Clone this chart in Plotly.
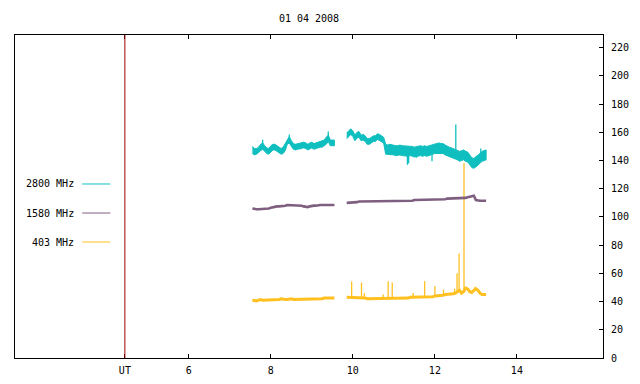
import plotly.graph_objects as go

TITLE = "01 04 2008"
SERIES_NAMES = ["2800 MHz", "1580 MHz", "403 MHz"]
X_TICK_VALS = [4.44, 6, 8, 10, 12, 14]
X_TICK_TEXT = ["UT", "6", "8", "10", "12", "14"]

# time (UT hours) of first and second observing segments
t1 = [7.55, 7.60, 7.65, 7.70, 7.75, 7.80, 7.85, 7.90, 7.95,
      8.00, 8.05, 8.10, 8.15, 8.20, 8.25, 8.30, 8.35,
      8.40, 8.45, 8.50, 8.55, 8.60, 8.65, 8.70, 8.75,
      8.80, 8.85, 8.90, 8.95, 9.00, 9.05, 9.10, 9.15,
      9.20, 9.25, 9.30, 9.35, 9.40, 9.45, 9.50, 9.55]
t2 = [9.85, 9.90, 9.95, 10.00, 10.05, 10.10, 10.15, 10.20,
      10.25, 10.30, 10.35, 10.40, 10.45, 10.50, 10.55, 10.60,
      10.65, 10.70, 10.75, 10.80, 10.85, 10.90, 10.95, 11.00,
      11.05, 11.10, 11.15, 11.20, 11.25, 11.30, 11.35, 11.40,
      11.45, 11.50, 11.55, 11.60, 11.65, 11.70, 11.75, 11.80,
      11.85, 11.90, 11.95, 12.00, 12.05, 12.10, 12.15, 12.20,
      12.25, 12.30, 12.35, 12.40, 12.45, 12.50, 12.55, 12.60,
      12.65, 12.70, 12.75, 12.80, 12.85, 12.90, 12.95, 13.00,
      13.05, 13.10, 13.15, 13.20, 13.25]

# 2800 MHz: noisy band, lower / upper envelope
f2800_hi_1 = [150, 148.5, 148.5, 149.5, 151.5, 152.5, 150.5, 149, 148.5,
              150.5, 151.5, 151.5, 150.5, 149.5, 148.5, 149.5, 152,
              155.5, 157, 154, 152, 151.5, 152, 152.5, 153,
              153, 152.5, 151.5, 152.5, 153, 152, 152.5, 153,
              153.5, 153.5, 154.5, 156.5, 158, 154.5, 154.5, 154.5]
f2800_lo_1 = [145, 144, 144.5, 145.5, 147, 148, 146.5, 145, 144.5,
              146, 147.5, 147.5, 146.5, 145.5, 144.5, 145, 147,
              151.5, 152.5, 150, 148, 147.5, 148, 148.5, 148.5,
              149, 148.5, 147.5, 148.5, 149, 148, 148.5, 149,
              149.5, 149.5, 150.5, 151.5, 153.5, 150.5, 150.5, 150.5]
f2800_hi_2 = [159.5, 161, 162.5, 161, 158, 160, 160.5, 158,
              158.5, 157.5, 155.5, 155.5, 156.5, 157.5, 157.5, 159,
              158.5, 157.5, 156.5, 151.5, 151, 151.5, 151, 151,
              150.5, 150.5, 151, 150.5, 150.5, 150, 150, 150.5,
              150, 149.5, 150, 150, 150.5, 150, 150.5, 150,
              150.5, 151, 151.5, 152, 152.5, 152.5, 152, 152,
              151, 150, 149.5, 149, 148.5, 148, 147.5, 146.5,
              147, 147.5, 146.5, 146, 144, 142, 141.5, 142.5,
              143.5, 145, 146.5, 147, 147.5]
f2800_lo_2 = [155.5, 157, 158.5, 157, 154, 156, 156.5, 154,
              154.5, 153.5, 151.5, 151.5, 152.5, 153.5, 153.5, 155,
              154.5, 153.5, 152.5, 144.5, 144, 144.5, 144, 144,
              143.5, 143.5, 144, 143.5, 143.5, 143, 143, 143.5,
              143, 142.5, 143, 143, 143.5, 143, 143.5, 143,
              143.5, 144, 144.5, 145, 145.5, 145.5, 145, 145,
              144, 143, 142.5, 142, 141.5, 141, 140.5, 139.5,
              140, 140.5, 139.5, 139, 137, 135, 134.5, 135.5,
              136.5, 138, 139.5, 140, 140.5]
# isolated spikes: time, from, to
f2800_spk_t = [7.80, 8.45, 9.40, 11.33, 11.36, 11.55, 11.93, 12.51, 13.12]
f2800_spk_a = [148, 152, 154, 137, 138, 142, 139.5, 147, 142]
f2800_spk_b = [154.7, 158.5, 160.5, 144, 144, 146, 146, 165.5, 148.5]

# 1580 MHz
f1580_1 = [106, 105.5, 105.5, 105.5, 105.5, 105.5, 105.5, 106, 106,
           106.5, 107, 107.5, 107.5, 107.5, 107.5, 107.5, 108,
           108.5, 108.5, 108.5, 108.5, 108, 108, 108, 108,
           107.5, 107, 107, 107.5, 108, 108, 108, 108.5,
           108.5, 108.5, 108.5, 108.5, 108.5, 108.5, 108.5, 108.5]
f1580_2 = [110, 110, 110, 110, 110.5, 110.5, 111, 111,
           111.5, 111.5, 111.5, 111.5, 111.5, 111.5, 111.5, 111.5,
           111.5, 111, 111, 111, 111, 111, 111.5, 111.5,
           111.5, 111.5, 111.5, 111.5, 111.5, 111.5, 111.5, 111.5,
           111.5, 112, 112, 112, 112, 112.5, 112.5, 112.5,
           112.5, 112.5, 112.5, 112.5, 112.5, 112.5, 112.5, 112.5,
           112.5, 113, 113, 113, 113, 113, 113, 113,
           113.5, 113.5, 113.5, 114, 114.5, 115, 115, 112,
           111.5, 111.5, 111.5, 111.5, 111.5]

# 403 MHz
f403_1 = [41, 40.5, 40.5, 41, 41.5, 41, 41, 41.5, 41.5,
          41.5, 41.5, 41, 41.5, 41.5, 42, 41.5, 41.5,
          41.5, 42, 42, 41.5, 41.5, 42, 42, 42,
          42, 41.5, 41.5, 42, 42, 42, 42, 42,
          42, 42, 42.5, 42.5, 42, 42, 42.5, 42.5]
f403_2 = [43, 43, 43, 42.5, 42.5, 42.5, 42.5, 42.5,
          42.5, 42.5, 42, 42, 42, 42, 42, 42,
          42, 42, 42.5, 42.5, 42.5, 42, 42, 42,
          42, 42.5, 42.5, 42.5, 42.5, 42.5, 42.5, 43,
          43, 43, 43, 43, 43, 43.5, 43.5, 43.5,
          43.5, 43.5, 43.5, 44, 44, 44, 44.5, 44.5,
          45, 45, 45, 45, 45.5, 46, 47, 48,
          46, 47, 49.5, 49, 47, 46.5, 48, 49,
          48, 46, 45, 45, 45]
f403_spk_t = [9.97, 10.21, 10.28, 10.74, 10.86, 10.96, 11.47, 11.75,
              12.00, 12.21, 12.48, 12.54, 12.59, 12.71, 12.98]
f403_spk_a = [42.5, 42.5, 42.5, 42, 42.5, 42, 43, 43.5,
              44, 44.5, 45.5, 46, 47, 47, 48]
f403_spk_b = [54.2, 53.5, 46, 45, 54.5, 53.5, 46, 54.5,
              51, 48.5, 49, 60, 74, 138, 50.5]

C_2800 = "#0fbfbf"
C_1580 = "#7f5f80"
C_403 = "#ffc020"
FONT = "DejaVu Sans Mono"


def band(t, lo, hi, color):
    return go.Scatter(x=t + t[::-1], y=hi + lo[::-1], mode="lines",
                      fill="toself", fillcolor=color,
                      line=dict(color=color, width=1), hoverinfo="skip")


def spikes(t, a, b, color):
    xs, ys = [], []
    for ti, ai, bi in zip(t, a, b):
        xs += [ti, ti, None]
        ys += [ai, bi, None]
    return go.Scatter(x=xs, y=ys, mode="lines",
                      line=dict(color=color, width=1.3), hoverinfo="skip")


def line(t, v, color, w):
    return go.Scatter(x=t, y=v, mode="lines",
                      line=dict(color=color, width=w), hoverinfo="skip")


fig = go.Figure()
fig.add_trace(line(t1, f403_1, C_403, 3))
fig.add_trace(line(t2, f403_2, C_403, 3))
fig.add_trace(spikes(f403_spk_t, f403_spk_a, f403_spk_b, C_403))
fig.add_trace(line(t1, f1580_1, C_1580, 2.6))
fig.add_trace(line(t2, f1580_2, C_1580, 2.6))
fig.add_trace(band(t1, f2800_lo_1, f2800_hi_1, C_2800))
fig.add_trace(band(t2, f2800_lo_2, f2800_hi_2, C_2800))
fig.add_trace(spikes(f2800_spk_t, f2800_spk_a, f2800_spk_b, C_2800))

# legend drawn as text + sample line on the left of the plot
leg_y = [0.5387, 0.4489, 0.3591]
for name, col, yy in zip(SERIES_NAMES, [C_2800, C_1580, C_403], leg_y):
    fig.add_annotation(x=0.104, y=yy, xref="paper", yref="paper", text=name,
                       showarrow=False, xanchor="right", yanchor="middle",
                       font=dict(family=FONT, size=10, color="black"))
    fig.add_shape(type="line", xref="paper", yref="paper", x0=0.1143, x1=0.1621,
                  y0=yy, y1=yy, line=dict(color=col, width=1))

fig.add_shape(type="line", xref="x", yref="paper", x0=4.44, x1=4.44, y0=0, y1=1,
              line=dict(color="#a00000", width=1))

# the page body adds an 8px offset; margins compensate for it
fig.update_layout(
    width=640, height=384,
    margin=dict(l=7, r=45, t=27, b=34),
    paper_bgcolor="white", plot_bgcolor="white",
    showlegend=False,
    font=dict(family=FONT, size=10, color="black"),
    title=dict(text=TITLE, x=0.5, xref="paper", xanchor="center",
               y=1 - 10 / 384, yref="container", yanchor="middle",
               font=dict(family=FONT, size=10, color="black")),
    xaxis=dict(range=[1.76, 16.1], tickvals=X_TICK_VALS, ticktext=X_TICK_TEXT,
               ticks="inside", ticklen=4, tickcolor="black", mirror="ticks",
               showline=True, linecolor="black", linewidth=1,
               showgrid=False, zeroline=False, ticklabelstandoff=3),
    yaxis=dict(range=[0, 229], dtick=20, side="right",
               ticks="inside", ticklen=4, tickcolor="black", mirror=True,
               showline=True, linecolor="black", linewidth=1,
               showgrid=False, zeroline=False, ticklabelstandoff=5),
)

fig.write_html("out.html")
